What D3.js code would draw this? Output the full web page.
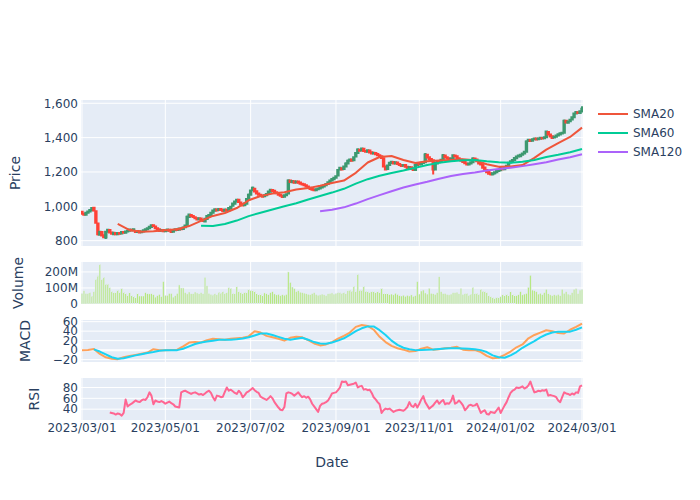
<!DOCTYPE html>
<html><head><meta charset="utf-8">
<script src="https://cdn.jsdelivr.net/npm/d3@7"></script>
<style>body{margin:0;background:#fff} svg{font-family:"DejaVu Sans",Verdana,sans-serif}</style>
</head><body><svg id="c" width="700" height="500"></svg>
<script>
// ---------------- DATA ----------------
const holidays = ["2023-04-07","2023-05-29","2023-06-19","2023-07-04","2023-09-04","2023-11-23","2023-12-25","2024-01-01","2024-01-15","2024-02-19"];

const openP = [
968,957,951, 962,970,977,992,972, 900,835,850,832,818, 852,862,848,838,845, 838,845,842,850,846, 853,858,864,860,
856,850,855,849,853, 860,866,872,880,890, 882,873,866,858,862, 855,858,864,860,852, 860,866,863,870,868,
878,890,938,950,944, 936,930,925,929,921, 912,926,942,950, 962,974,982,978,984, 979,974,980,976,988,
1004,1015,1028,1038, 1022,1012,1006,1015,1040, 1068,1094,1102,1088, 1075,1068,1062,1058,1064, 1072,1085,1095,1090,1082,
1076,1068,1062,1056,1064, 1075,1150,1140,1146,1138, 1144,1138,1132,1128,1122, 1115,1108,1102,1098,1094, 1100,1104,1110,1116,1122,
1130,1140,1150,1158,1166, 1180,1214,1222,1218, 1232,1250,1265,1272,1268, 1290,1310,1330,1325,1335, 1322,1318,1325,1315,1308,
1310,1304,1298,1292,1280, 1232,1218,1240,1252,1258, 1250,1255,1246,1240,1236, 1240,1230,1224,1228,1220, 1212,1240,1250,1245,1252,
1256,1300,1285,1275,1268, 1215,1250,1262,1258,1272, 1296,1286,1280,1270, 1278,1296,1292,1280,1272, 1265,1258,1250,1244,1250,
1256,1278,1272,1262,1250, 1244,1226,1212,1200,1192, 1186,1192,1199,1205, 1210,1222,1216,1224, 1236,1255,1262,1270,1280,
1290,1292,1300,1308, 1318,1380,1386,1382,1390, 1395,1390,1394,1398,1396, 1402,1432,1418,1408,1400, 1405,1412,1418,1424,1428,
1498,1486,1495,1505, 1518,1540,1548,1544,1552];

const closeP = [
957,951,962, 970,978,990,975,905, 838,852,830,820,852, 863,848,840,846,838, 845,841,850,846,853, 858,865,859,866,
850,856,848,853,860, 866,873,881,890,885, 872,865,857,862,855, 859,865,858,851,860, 866,862,871,867,876,
888,940,952,943,938, 930,924,930,920,914, 928,944,950,962, 975,983,976,985,979, 973,981,975,990,997,
1016,1028,1038,1025, 1012,1005,1016,1042,1068, 1092,1108,1086,1075, 1068,1061,1056,1064,1072, 1086,1096,1089,1081,1076,
1068,1061,1055,1064,1070, 1150,1141,1147,1137,1144, 1137,1132,1127,1122,1115, 1108,1101,1097,1093,1100, 1104,1111,1117,1123,1130,
1140,1151,1159,1167,1175, 1212,1224,1214,1232, 1250,1266,1273,1266,1285, 1310,1331,1324,1336,1322, 1317,1326,1314,1307,1312,
1303,1297,1291,1282,1232, 1215,1238,1253,1260,1250, 1256,1246,1241,1235,1240, 1230,1223,1229,1218,1212, 1240,1250,1244,1253,1256,
1302,1284,1274,1268,1215, 1252,1263,1257,1271,1298, 1285,1279,1273,1278, 1297,1291,1281,1272,1265, 1258,1251,1244,1250,1256,
1279,1271,1262,1250,1244, 1225,1211,1199,1190,1186, 1192,1199,1205,1210, 1223,1216,1225,1236, 1254,1263,1270,1281,1290,
1296,1300,1308,1318, 1378,1387,1381,1390,1395, 1389,1395,1399,1395,1402, 1435,1418,1407,1398,1405, 1413,1419,1425,1429,1498,
1488,1494,1504,1518, 1540,1549,1543,1553,1568];

const highP = [
972,961,966, 975,982,995,998,976, 904,858,856,836,857, 868,866,853,851,849, 850,849,855,854,858, 862,870,868,871,
860,861,859,858,865, 870,878,886,896,895, 886,877,870,867,866, 864,869,868,864,865, 870,871,876,874,881,
893,946,958,955,948, 940,934,935,933,925, 933,949,955,967, 980,988,987,990,989, 983,986,984,995,1002,
1021,1033,1044,1043, 1026,1016,1021,1047,1074, 1098,1115,1106,1092, 1079,1072,1066,1069,1077, 1091,1101,1099,1094,1086,
1080,1072,1066,1069,1075, 1158,1155,1152,1150,1149, 1148,1142,1136,1132,1126, 1119,1112,1106,1102,1105, 1109,1116,1122,1128,1135,
1145,1156,1164,1172,1181, 1218,1230,1227,1238, 1256,1272,1279,1277,1292, 1316,1338,1335,1342,1340, 1327,1331,1329,1319,1317,
1314,1308,1302,1296,1284, 1236,1243,1258,1265,1262, 1261,1259,1250,1244,1245, 1244,1234,1234,1232,1224, 1245,1255,1254,1258,1261,
1310,1305,1289,1279,1272, 1257,1268,1266,1276,1304, 1300,1290,1284,1283, 1303,1300,1296,1284,1276, 1269,1262,1254,1255,1261,
1285,1282,1276,1266,1254, 1248,1230,1216,1204,1196, 1198,1204,1210,1215, 1228,1226,1230,1241, 1260,1268,1275,1286,1296,
1301,1305,1313,1324, 1384,1393,1390,1395,1400, 1399,1400,1404,1402,1407, 1442,1437,1422,1412,1410, 1418,1424,1430,1434,1505,
1503,1499,1509,1524, 1546,1555,1553,1559,1582];

const lowP = [
952,946,947, 958,966,973,970,898, 830,829,825,814,810, 847,843,835,833,833, 833,837,838,842,842, 849,854,855,856,
846,846,844,845,849, 856,862,868,876,881, 868,861,853,854,850, 851,854,854,847,848, 856,858,859,863,864,
874,886,933,938,933, 926,920,921,916,910, 906,922,938,946, 958,970,972,974,975, 969,970,971,972,984,
1000,1011,1024,1020, 1007,1000,1002,1011,1036, 1064,1090,1082,1071, 1064,1057,1051,1053,1060, 1068,1081,1085,1077,1072,
1064,1057,1050,1051,1060, 1071,1136,1136,1133,1134, 1133,1128,1123,1118,1111, 1104,1097,1093,1089,1090, 1096,1100,1106,1112,1118,
1126,1136,1146,1154,1162, 1176,1209,1209,1213, 1227,1245,1260,1261,1263, 1285,1305,1319,1320,1317, 1312,1313,1309,1302,1303,
1299,1293,1287,1278,1226, 1209,1213,1235,1247,1245, 1245,1241,1236,1230,1231, 1225,1218,1219,1213,1206, 1207,1235,1239,1240,1247,
1251,1279,1269,1263,1185, 1208,1245,1252,1253,1267, 1280,1274,1268,1265, 1273,1286,1276,1267,1260, 1253,1246,1239,1239,1245,
1251,1266,1257,1245,1239, 1220,1206,1194,1185,1180, 1180,1185,1194,1200, 1205,1211,1211,1219, 1231,1250,1257,1265,1275,
1285,1287,1295,1303, 1313,1375,1376,1377,1385, 1384,1385,1389,1390,1391, 1397,1413,1402,1393,1395, 1400,1407,1413,1419,1423,
1482,1481,1490,1500, 1513,1535,1538,1539,1547];

// volume, in millions of shares
const volumeM = [
66,83,66,66,71,50,77,154,176,247, 154,167,125,125,102,79,71,71,87,75, 96,75,66,57,71,54,50,39,66,50,
50,50,71,64,63,64,58,43,52,60, 46,140,54,54,66,66,43,52,66,119, 100,100,71,63,75,64,64,75,69,64,
71,64,167,114,67,61,57,64,58,74, 69,77,66,71,102,98,67,64,108,77, 71,66,74,72,92,87,83,79,66,60,
63,57,69,64,58,71,77,63,57,60, 52,58,55,60,200,135,106,96,77,83, 74,71,68,64,61,58,65,71,60,55,
57,62,58,52,64,66,69,62,66,71, 71,67,71,64,83,87,81,111,78,185, 87,87,111,81,77,74,79,77,71,77,
74,98,67,64,65,58,62,57,67,60, 52,50,55,48,54,50,57,48,52,140, 62,81,87,69,62,98,67,64,60,71,
170,77,65,66,60,57,62,71,71,74, 64,98,60,65,66,55,62,104,65,67, 60,92,81,77,71,52,46,41,37,43,
39,46,58,52,62,55,77,60,57,52, 58,77,57,62,66,104,179,87,83,77, 62,67,58,71,92,64,57,52,58,55,
60,52,92,67,77,62,57,71,92,96, 65,87,92];

const rsiStart = 14;
const rsi = [
34,33,32,30,32,31,28,33,58,45, 48,50,53,56,54,53,56,58,57,62, 71,65,49,56,54,53,55,53,50,52,
54,51,49,45,44,43,71,73,74,72, 70,68,70,71,69,67,68,66,69,72, 74,70,62,56,65,64,62,63,72,80,
74,76,73,70,68,74,70,62,66,71, 73,76,79,75,72,70,63,61,59,57, 60,64,60,53,48,43,39,38,44,69,
71,70,68,65,68,71,66,62,64,61, 63,58,50,45,40,35,46,50,51,53, 56,62,69,70,71,75,80,91,90,91,
84,85,86,87,89,80,82,83,76,77, 75,76,70,62,58,53,49,33,38,41, 40,41,38,35,37,38,39,38,37,40,
44,53,46,44,50,43,50,58,64,53, 47,41,44,47,52,56,50,54,57,49, 51,50,55,65,50,52,56,52,47,38,
42,47,48,46,47,50,42,33,36,38, 31,30,35,34,33,38,43,33,40,47, 53,62,70,74,76,80,79,80,82,78,
80,84,91,80,71,72,74,73,75,74, 76,65,66,65,64,62,56,53,62,71, 69,68,66,69,67,71,70,82,84];

// moving averages, one value every 6 trading days
const smaStep = 6;
const sma20 = [null,null,null,898,862,852,855,861,866,885,915,944,961,990,1035,1060,1074,1082,1098,1106,1120,1136,1150,1195,1255,1287,1293,1270,1252,1262,1267,1270,1274,1268,1245,1231,1232,1240,1282,1330,1368,1404,1458];
const sma60 = [null,null,null,null,null,null,null,null,null,null,887,886,897,917,943,963,982,1000,1018,1040,1060,1080,1102,1132,1158,1178,1194,1208,1225,1240,1253,1262,1268,1270,1262,1256,1254,1259,1270,1287,1300,1315,1334];
const sma120 = [null,null,null,null,null,null,null,null,null,null,null,null,null,null,null,null,null,null,null,null,971,980,994,1016,1042,1065,1088,1110,1127,1143,1161,1176,1188,1197,1209,1217,1225,1234,1245,1257,1272,1286,1303];

// MACD and signal, one value every 3 trading days
const macdStep = 3;
const macd = [0,0.5,2.5,-8,-15,-18,-19,-15,-12.5,-10, -7.5,-5,2,0,0,0.5,1,8,16,17, 16,21,24,23,22,24,25,26,29,40,
37,30,27,24,20,26,28,27,21,14, 10,12,17,24,30,37,49,53,51,43, 28,17,9,4,1,-3,-2,3,6,1,
2,4,5,7,1,0,0,-4,-12,-17, -16,-10,-3,6,12,25,32,37,42,40, 36,35,43,49,56];
const signal = [null,null,1.5,-3,-9,-15,-18,-17,-14,-11, -8.5,-6,-4,-1.5,0,0,0,3,8,13, 16,18,20,22,22,22,23,24.5,27,31,
35,35,32,28,24,22,24,26,22,17, 14,13.5,16,20,25,32,40,46,50,50, 42,32,20,11,5,2,0,0.5,1,1.5,
2.5,3.5,4,4,3.5,3,2,0,-4,-11, -15,-16,-11,-4,5,12,19,27,33,37, 39,39,39,43,48];

const xTickLabels = ["2023/03/01","2023/05/01","2023/07/02","2023/09/01","2023/11/01","2024/01/02","2024/03/01"];
const priceTicks = [800,1000,1200,1400,1600];
const volTicks = [0,100,200];
const macdTicks = [-20,0,20,40,60];
const rsiTicks = [40,60,80];
const legendNames = ["SMA20","SMA60","SMA120"];

// ---------------- BUILD ----------------
const dates = [];
for (let t = Date.UTC(2023,2,1); t <= Date.UTC(2024,2,1); t += 86400000) {
  const d = new Date(t), wd = d.getUTCDay(), s = d.toISOString().slice(0,10);
  if (wd === 0 || wd === 6 || holidays.includes(s)) continue;
  dates.push(s);
}
const N = dates.length;
[openP,closeP,highP,lowP,volumeM].forEach((a,k)=>{ if(a.length!==N) throw new Error("length mismatch "+k+": "+a.length+" vs "+N); });
if (rsi.length + rsiStart !== N) throw new Error("rsi len " + rsi.length);

const svg = d3.select("#c");
const L = 81, R = 583;
const x = d3.scaleLinear().domain([-0.5, N - 0.5]).range([L, R]);
const pitch = (R - L) / N;

const panels = {
  price: {top:100, bottom:246, y: d3.scaleLinear().domain([769,1619]).range([246,100])},
  vol:   {top:262, bottom:304, y: d3.scaleLinear().domain([0,262]).range([304,262])},
  macd:  {top:320, bottom:362, y: d3.scaleLinear().domain([-25,63.5]).range([362,320])},
  rsi:   {top:378, bottom:420, y: d3.scaleLinear().domain([20,97.5]).range([420,378])}
};
const FONT = "#2a3f5f";

// tick positions (first trading day on/after each label date)
const xTicks = xTickLabels.map(lbl => {
  const iso = lbl.replace(/\//g,"-");
  let i = dates.findIndex(d => d >= iso);
  if (i < 0) i = N - 1;
  return {lbl, i};
});

Object.entries(panels).forEach(([key,p]) => {
  svg.append("rect").attr("x",L).attr("y",p.top).attr("width",R-L).attr("height",p.bottom-p.top).attr("fill","#E5ECF6");
  svg.append("clipPath").attr("id","clip-"+key).append("rect").attr("x",L).attr("y",p.top).attr("width",R-L).attr("height",p.bottom-p.top);
  const g = svg.append("g");
  xTicks.forEach(t => g.append("line").attr("x1",x(t.i)).attr("x2",x(t.i)).attr("y1",p.top).attr("y2",p.bottom).attr("stroke","#fff").attr("stroke-width",1));
});

function yAxis(p, ticks, fmt, zero) {
  ticks.forEach(v => {
    const yy = p.y(v);
    svg.append("line").attr("x1",L).attr("x2",R).attr("y1",yy).attr("y2",yy)
      .attr("stroke","#fff").attr("stroke-width", (zero && v===0) ? 2 : 1);
    svg.append("text").attr("x",78).attr("y",yy).attr("dy","0.36em").attr("text-anchor","end")
      .attr("font-size",12).attr("fill",FONT).text(fmt(v));
  });
}
const minus = v => (v < 0 ? "\u2212" + Math.abs(v) : String(v));
yAxis(panels.price, priceTicks, d3.format(","), false);
yAxis(panels.vol, volTicks, v => v === 0 ? "0" : v + "M", true);
yAxis(panels.macd, macdTicks, minus, true);
yAxis(panels.rsi, rsiTicks, String, false);

// axis titles
[["Price",15.3,173],["Volume",17.8,283],["MACD",25,341],["RSI",33.8,399]].forEach(([t,tx,ty]) => {
  svg.append("text").attr("transform",`translate(${tx},${ty}) rotate(-90)`).attr("text-anchor","middle")
    .attr("dy","0.36em").attr("font-size",14).attr("fill",FONT).text(t);
});
svg.append("text").attr("x",(L+R)/2).attr("y",462).attr("dy","0.36em").attr("text-anchor","middle")
  .attr("font-size",14).attr("fill",FONT).text("Date");

// x tick labels
xTicks.forEach(t => svg.append("text").attr("x",x(t.i)).attr("y",432).attr("text-anchor","middle")
  .attr("font-size",12).attr("fill",FONT).text(t.lbl));

// ---- candles ----
const pp = panels.price;
const gC = svg.append("g").attr("clip-path","url(#clip-price)");
const bw = pitch * 0.7;
for (let i = 0; i < N; i++) {
  const up = closeP[i] >= openP[i];
  const col = up ? "#3D9970" : "#FF4136";
  const fill = up ? "rgba(61,153,112,0.5)" : "rgba(255,65,54,0.5)";
  const cx = x(i);
  const yt = pp.y(Math.max(openP[i],closeP[i])), yb = pp.y(Math.min(openP[i],closeP[i]));
  gC.append("path")
    .attr("d", `M${cx},${pp.y(highP[i])}V${yt}M${cx-bw/2},${yt}H${cx+bw/2}V${yb}H${cx-bw/2}ZM${cx},${yb}V${pp.y(lowP[i])}`)
    .attr("stroke",col).attr("stroke-width",2).attr("fill",fill);
}

function drawLine(g, yS, vals, step, start, color, w) {
  const pts = vals.map((v,k) => v == null ? null : [x(start + k*step), yS(v)]).filter(d => d);
  g.append("path").attr("d", d3.line()(pts)).attr("fill","none").attr("stroke",color)
    .attr("stroke-width",w).attr("stroke-linejoin","round");
}
const smaColors = ["#EF553B","#00CC96","#AB63FA"];
drawLine(gC, pp.y, sma20, smaStep, 0, smaColors[0], 2);
drawLine(gC, pp.y, sma60, smaStep, 0, smaColors[1], 2);
drawLine(gC, pp.y, sma120, smaStep, 0, smaColors[2], 2);

// ---- volume ----
const pv = panels.vol;
const gV = svg.append("g").attr("clip-path","url(#clip-vol)");
gV.selectAll("rect").data(volumeM).join("rect")
  .attr("x",(d,i)=>x(i)-pitch*0.4).attr("width",pitch*0.8)
  .attr("y",d=>pv.y(d)).attr("height",d=>pv.y(0)-pv.y(d))
  .attr("fill","#B6E880").attr("stroke","#E5ECF6").attr("stroke-width",0.5);

// ---- MACD ----
const pm = panels.macd;
const gM = svg.append("g").attr("clip-path","url(#clip-macd)");
drawLine(gM, pm.y, macd, macdStep, 0, "#FFA15A", 2);
drawLine(gM, pm.y, signal, macdStep, 0, "#19D3F3", 2);

// ---- RSI ----
const pr = panels.rsi;
const gR = svg.append("g").attr("clip-path","url(#clip-rsi)");
drawLine(gR, pr.y, rsi, 1, rsiStart, "#FF6692", 2);

// ---- legend ----
legendNames.forEach((n,k) => {
  const ly = 114 + k*19;
  svg.append("line").attr("x1",598).attr("x2",628).attr("y1",ly).attr("y2",ly).attr("stroke",smaColors[k]).attr("stroke-width",2);
  svg.append("text").attr("x",633).attr("y",ly).attr("dy","0.36em").attr("font-size",12).attr("fill",FONT).text(n);
});
</script></body></html>
